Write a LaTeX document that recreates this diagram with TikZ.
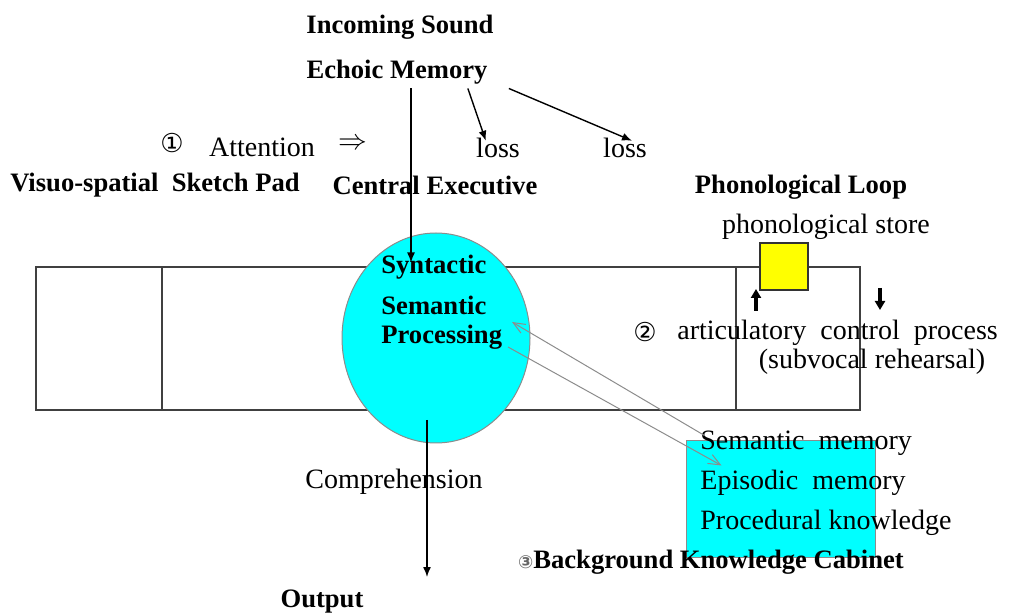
\documentclass[tikz,border=0pt]{standalone}
\usepackage{fontspec}
\setmainfont{Liberation Serif}
\newfontfamily\symfont{DejaVu Sans}
\usetikzlibrary{arrows.meta,calc,shapes.geometric}
\definecolor{procCyan}{HTML}{00FFFF}
\definecolor{storeYellow}{HTML}{FFFF00}
\definecolor{edgeGray}{HTML}{8C8C8C}

\begin{document}
\begin{tikzpicture}[x=0.5pt, y=-0.5pt,
  hdr/.style={font=\fontsize{13.3}{15}\selectfont\bfseries, inner sep=0pt},
  lbl/.style={font=\fontsize{14}{16}\selectfont, inner sep=0pt},
  num/.style={font=\symfont\fontsize{13}{15}\selectfont, inner sep=0pt},
  frame/.style={draw=black!75, line width=0.8pt},
  proc/.style={ellipse, draw=edgeGray, fill=procCyan, line width=0.5pt,
               minimum width=94pt, minimum height=105pt},
  mem/.style={draw=edgeGray, fill=procCyan, line width=0.5pt,
              minimum width=94.5pt, minimum height=58pt, inner sep=0pt},
  store/.style={draw=black!80, fill=storeYellow, line width=0.7pt,
                minimum width=24pt, minimum height=23.5pt, inner sep=0pt},
  arr/.style={-{Latex[length=5pt,width=4pt]}, line width=0.7pt},
  garr/.style={-{Straight Barb[length=6pt,width=5pt]}, draw=edgeGray, line width=0.5pt},
  tick/.style={-{Triangle[length=4.5pt,width=5pt]}, line width=1.8pt}
]
\useasboundingbox (0,0) rectangle (1012,614);

% working memory frame
\node[frame, minimum width=412pt, minimum height=71.5pt, inner sep=0pt] (wm) at (448,338.5) {};
\draw[frame] (162,267) -- (162,410);
\draw[frame] (736,267) -- (736,410);

\node[proc]  (ce)     at (436,338) {};
\node[store] (pstore) at (784,266.5) {};
\node[mem]   (bk)     at (780.5,499) {};

% titles
\node[hdr] (insound) at (400,27)  {Incoming Sound};
\node[hdr] (echoic)  at (397,72)  {Echoic Memory};
\node[num] (n1)      at (172,143) {①};
\node[lbl] (attn)    at (262,147) {Attention};
\node[lbl] (impl)    at (353,144) {$\Rightarrow$};
\node[lbl] (loss1)   at (498,148) {loss};
\node[lbl] (loss2)   at (625,148) {loss};
\node[hdr] (vssp)    at (155,185) {Visuo-spatial\ \ Sketch Pad};
\node[hdr] (cexec)   at (435,185) {Central Executive};
\node[hdr] (ploop)   at (801,187) {Phonological Loop};
\node[lbl] (pslabel) at (826,227) {phonological store};

% central executive contents
\node[hdr, anchor=west] (syn)  at (381,267) {Syntactic};
\node[hdr, anchor=west] (sem)  at (381,305) {Semantic};
\node[hdr, anchor=west] (prc)  at (381,337) {Processing};

% phonological loop
\node[num] (n2)   at (645,332) {②};
\node[lbl, anchor=west] (artic) at (677,333) {articulatory\ \ control\ \ process};
\node[lbl] (subv) at (872,362) {(subvocal rehearsal)};
\coordinate (upA) at (756,311);
\coordinate (upB) at (756,289);
\coordinate (dnA) at (880,288);
\coordinate (dnB) at (880,310);

% background knowledge
\node[lbl, anchor=west] (smem) at (700,443) {Semantic\ \ memory};
\node[lbl, anchor=west] (emem) at (700,483) {Episodic\ \ memory};
\node[lbl, anchor=west] (pknw) at (700,523) {Procedural knowledge};
\node[hdr] (bkc) at (711,562) {{\symfont\fontsize{9}{10}\selectfont\color{black!60}③}Background Knowledge Cabinet};

\node[lbl] (compr)  at (394,482) {Comprehension};
\node[hdr] (output) at (322,602) {Output};

% connectors
\draw[arr] ($(echoic.south)+(14,4)$) -- ($(echoic.south)+(14,178)$);
\draw[arr] ($(echoic.south east)+(-20,4)$) -- ($(loss1.north west)+(10,3)$);
\draw[arr] ($(echoic.south east)+(21,4)$) -- ($(loss2.north)+(7,3)$);
\draw[tick] (upA) -- (upB);
\draw[tick] (dnA) -- (dnB);
\draw[garr] ($(bk.north west)+(19,-5)$) -- ($(ce.center)+(76,-16)$);
\draw[garr] ($(ce.center)+(72,9)$) -- ($(bk.north west)+(36,25)$);
\draw[arr] ($(ce.center)+(-9,82)$) -- ($(ce.center)+(-9,239)$);
\end{tikzpicture}
\end{document}
